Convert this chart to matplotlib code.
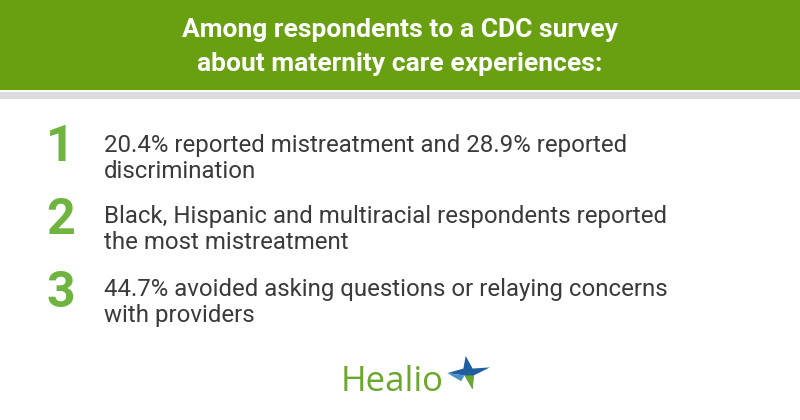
import matplotlib
matplotlib.use("Agg")
import matplotlib.pyplot as plt
from matplotlib.patches import Rectangle, Polygon

title_lines = ["Among respondents to a CDC survey", "about maternity care experiences:"]
item_numbers = ["1", "2", "3"]
item_texts = [
    ["20.4% reported mistreatment and 28.9% reported", "discrimination"],
    ["Black, Hispanic and multiracial respondents reported", "the most mistreatment"],
    ["44.7% avoided asking questions or relaying concerns", "with providers"],
]
brand = "Healio"

GREEN_BAND = "#68a012"
GREEN_NUM = "#6eb43f"
TEXT_COL = "#3a3a3a"

text_baselines = [152, 223, 296]
digit_baselines = [161, 234, 307]

fig = plt.figure(figsize=(8, 4.2), dpi=100)
ax = fig.add_axes([0, 0, 1, 1])
ax.set_xlim(0, 800)
ax.set_ylim(420, 0)
ax.axis("off")

ax.add_patch(Rectangle((0, 0), 800, 90, color=GREEN_BAND, lw=0))
ax.add_patch(Rectangle((0, 92), 800, 7, color="#dcdcdc", lw=0))

for i, line in enumerate(title_lines):
    ax.text(400, 37 + i * 34, line, ha="center", va="baseline", color="white",
            fontsize=19, fontweight="bold", family="Roboto")

for num, lines, tb, db in zip(item_numbers, item_texts, text_baselines, digit_baselines):
    ax.text(46, db, num, ha="left", va="baseline", color=GREEN_NUM,
            fontsize=36, fontweight="bold", family="Roboto")
    for j, ln in enumerate(lines):
        ax.text(104, tb + j * 26, ln, ha="left", va="baseline", color=TEXT_COL,
                fontsize=17.3, family="Roboto")

ax.text(341, 391, brand, ha="left", va="baseline", color="#6aa82c",
        fontsize=25, family="Open Sans")

# star mark
cx, cy = 468, 372
s = 1.15
raw = [(-2, -14), (4, -3), (19, -4), (5, 3), (4, 15), (-3, 3), (-18, 1), (-4, -3)]
star_pts = [(cx + s * x, cy + s * y) for x, y in raw]
ax.add_patch(Polygon(star_pts, closed=True, color="#1f5fa0", lw=0))
ax.add_patch(Polygon([(cx - 3 * s, cy + 3 * s), (cx + 5 * s, cy + 3 * s), (cx + 4 * s, cy + 15 * s)],
                     closed=True, color="#6aa82c", lw=0))
ax.add_patch(Polygon([(cx - 18 * s, cy + 1 * s), (cx - 3 * s, cy + 3 * s), (cx - 6 * s, cy + 8 * s)],
                     closed=True, color="#4a90c8", lw=0))

fig.savefig("out.png", dpi=100)
